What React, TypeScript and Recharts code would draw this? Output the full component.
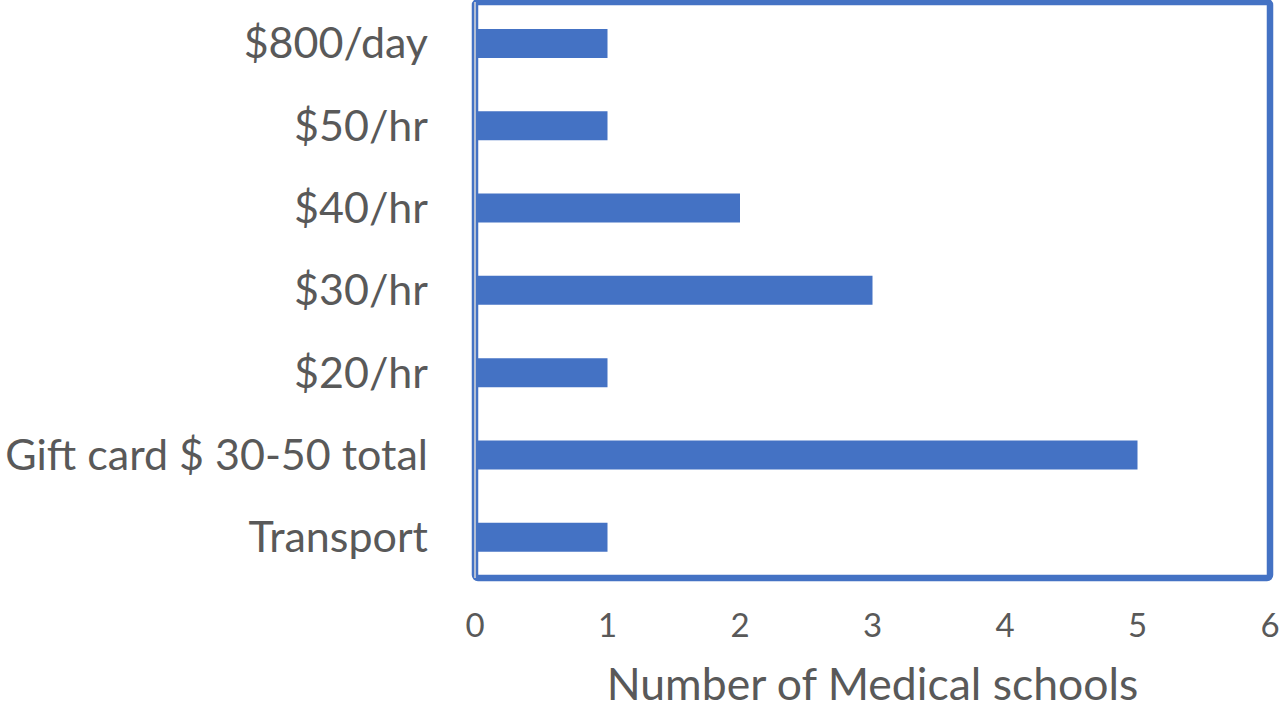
import React from 'react';
import { BarChart, Bar, XAxis, YAxis, ReferenceArea } from 'recharts';

const categories = ['$800/day', '$50/hr', '$40/hr', '$30/hr', '$20/hr', 'Gift card $ 30-50 total', 'Transport'];
const schoolCounts = [1, 1, 2, 3, 1, 5, 1];
const xTicks = [0, 1, 2, 3, 4, 5, 6];

const data = categories.map((name, i) => ({ name, count: schoolCounts[i] }));

const FONT = 'Lato, "Open Sans", sans-serif';
const TEXT = '#595959';
const BLUE = '#4472C4';

const App: React.FC = () => {
  return (
    <div style={{ position: 'absolute', left: 0, top: 0, width: 1283, height: 709, background: '#fff' }}>
      <BarChart
        width={1283}
        height={709}
        data={data}
        layout="vertical"
        margin={{ top: 2, right: 13, left: 0, bottom: 0 }}
        barSize={29}
      >
        <XAxis
          type="number"
          domain={[0, 6]}
          ticks={xTicks}
          axisLine={false}
          tickLine={false}
          tickSize={0}
          tickMargin={36}
          height={131}
          tick={{ fill: TEXT, fontSize: 33, fontFamily: FONT }}
          label={{
            value: 'Number of Medical schools',
            position: 'insideBottom',
            offset: 9,
            fill: TEXT,
            fontSize: 44.5,
            fontFamily: FONT,
          }}
        />
        <YAxis
          type="category"
          dataKey="name"
          width={475}
          axisLine={{ stroke: '#D9D9D9', strokeWidth: 1.5 }}
          tickLine={false}
          tickSize={0}
          tickMargin={47}
          interval={0}
          tick={{ fill: TEXT, fontSize: 43, fontFamily: FONT }}
        />
        <ReferenceArea x1={0} x2={6} fill="none" stroke={BLUE} strokeWidth={6.5} radius={3} ifOverflow="visible" />
        <Bar dataKey="count" fill={BLUE} isAnimationActive={false} />
      </BarChart>
    </div>
  );
};

export default App;
